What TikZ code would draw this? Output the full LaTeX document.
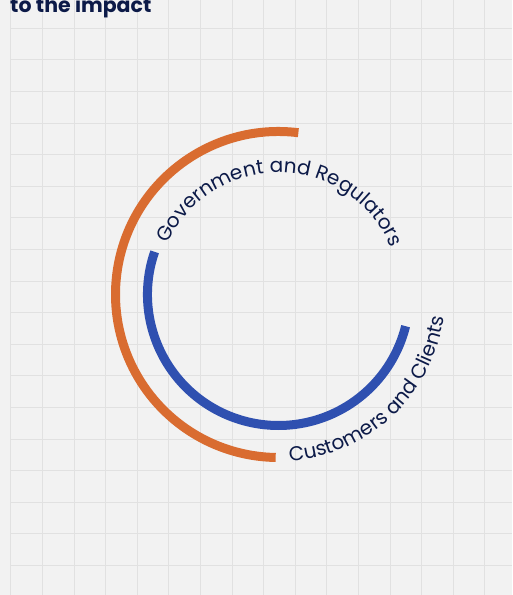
\documentclass[tikz,border=0pt]{standalone}
\usepackage{fontspec}
\setmainfont{Poppins}
\usetikzlibrary{decorations.text}
\definecolor{bg}{HTML}{F2F2F2}
\definecolor{gridc}{HTML}{E1E1E1}
\definecolor{orangearc}{HTML}{D96C30}
\definecolor{bluearc}{HTML}{2F50B0}
\definecolor{navy}{HTML}{0C1A48}
\newcommand\ringfont{\fontsize{20}{24}\selectfont}
\begin{document}
\begin{tikzpicture}[x=1pt,y=1pt,
  gridline/.style={draw=gridc,line width=0.8pt},
  orangering/.style={draw=orangearc,line width=9pt},
  bluering/.style={draw=bluearc,line width=9pt},
  ringtext/.style={decorate,decoration={text along path,text align=center,text color=navy,text={#1}}}]
\useasboundingbox (0,0) rectangle (512,595);
\clip (0,0) rectangle (512,595);
\fill[bg] (0,0) rectangle (512,595);
\foreach \k in {0,...,15} \draw[gridline] ({10.7+31.6*\k},0) -- ({10.7+31.6*\k},595);
\foreach \k in {0,...,17} \draw[gridline] (10.7,{595-28.3-31.6*\k}) -- (512,{595-28.3-31.6*\k});
\coordinate (C) at (278.5,300.5);
\path (C) ++(83:163) coordinate (o0);
\path (C) ++(161:131) coordinate (b0);
\path (C) ++(155:122) coordinate (g0);
\path (C) ++(-86:167) coordinate (c0);
\draw[orangering] (o0) arc[start angle=83,end angle=269,radius=163];
\draw[bluering] (b0) arc[start angle=161,end angle=346,radius=131];
\path[ringtext={|\ringfont|Government and Regulators}] (g0) arc[start angle=155,end angle=23,radius=122];
\path[ringtext={|\ringfont|Customers and Clients}] (c0) arc[start angle=-86,end angle=-8,radius=167];
\node[anchor=base west,inner sep=0pt,text=navy,font=\bfseries\fontsize{20.5}{24}\selectfont] (title) at (10,582) {to the impact};
\end{tikzpicture}
\end{document}
